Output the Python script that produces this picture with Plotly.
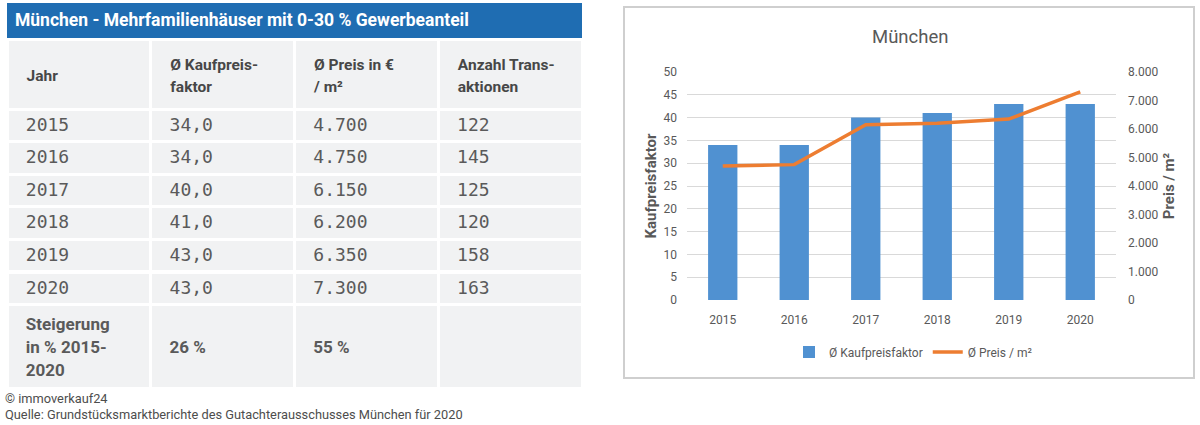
import plotly.graph_objects as go

# ---------------- data ----------------
years = ["2015", "2016", "2017", "2018", "2019", "2020"]
kaufpreisfaktor = [34.0, 34.0, 40.0, 41.0, 43.0, 43.0]
preis_m2 = [4700, 4750, 6150, 6200, 6350, 7300]
transaktionen = [122, 145, 125, 120, 158, 163]
steigerung_label = ["Steigerung", "in % 2015-", "2020"]
steigerung_faktor = "26 %"
steigerung_preis = "55 %"

table_title = "München - Mehrfamilienhäuser mit 0-30 % Gewerbeanteil"
col_headers = [["Jahr"], ["Ø Kaufpreis-", "faktor"], ["Ø Preis in €", "/ m²"], ["Anzahl Trans-", "aktionen"]]
chart_title = "München"
name_bar = "Ø Kaufpreisfaktor"
name_line = "Ø Preis / m²"
y1_title = "Kaufpreisfaktor"
y2_title = "Preis / m²"
footer = ["© immoverkauf24", "Quelle: Grundstücksmarktberichte des Gutachterausschusses München für 2020"]

# ---------------- styling ----------------
W, H = 1200, 425
BLUE_BAR = "#1f6db2"
CELL_BG = "#f1f2f3"
HEAD_COL = "#474747"
TXT_COL = "#5a5a5a"
CHART_TXT = "#595959"
BAR_COL = "#5091d1"
LINE_COL = "#ed7d31"
GRID_COL = "#d9d9d9"
SANS = "Roboto"
MONO = "DejaVu Sans Mono"
CHART_FONT = "Roboto"
NB = "\u00a0"
HEAD_SIZE = 15.5


def px(x):
    return x / W


def py(y):
    return 1 - y / H


def de(v, dec):
    s = f"{v:,.{dec}f}"
    return s.replace(",", "#").replace(".", ",").replace("#", ".")


def head_lines(lines):
    # single-line headers: full-height spacer line; two-line headers: tiny spacer line
    if len(lines) == 1:
        spacer = NB
    else:
        spacer = '<span style="font-size:1px">' + NB + "</span>"
    out = [spacer]
    for ln in lines:
        out.append(f'<span style="font-size:{HEAD_SIZE}px">' + NB * 3 + "<b>" + ln + "</b></span>")
    return "<br>".join(out)


def sans_bold(lines, size):
    return "<br>".join(
        NB + f'<span style="font-family:{SANS};font-size:{size}px"><b>' + ln + "</b></span>"
        for ln in lines
    )


col_year = [NB + y for y in years] + [sans_bold(steigerung_label, 17)]
col_fak = [NB + de(v, 1) for v in kaufpreisfaktor] + [NB + "<br>" + sans_bold([steigerung_faktor], 17)]
col_pre = [NB + de(v, 0) for v in preis_m2] + [NB + "<br>" + sans_bold([steigerung_preis], 17)]
col_tra = [NB + str(v) for v in transaktionen] + [""]

fig = go.Figure()

fig.add_trace(go.Table(
    domain=dict(x=[px(7), px(582)], y=[py(410), py(39)]),
    columnwidth=[1, 1, 1, 1],
    header=dict(
        values=[head_lines(h) for h in col_headers],
        fill_color=CELL_BG,
        line=dict(color="white", width=3),
        align="left",
        height=70,
        font=dict(family=SANS, size=[HEAD_SIZE, 17, 17, 17], color=HEAD_COL),
    ),
    cells=dict(
        values=[col_year, col_fak, col_pre, col_tra],
        fill_color=CELL_BG,
        line=dict(color="white", width=3),
        align="left",
        height=32.6,
        font=dict(family=MONO, size=18, color=TXT_COL),
    ),
))

fig.add_trace(go.Bar(
    x=years, y=kaufpreisfaktor, name=name_bar,
    marker=dict(color=BAR_COL, line=dict(width=0)),
    width=0.41, xaxis="x", yaxis="y",
))
fig.add_trace(go.Scatter(
    x=years, y=preis_m2, name=name_line, mode="lines",
    line=dict(color=LINE_COL, width=3.5),
    xaxis="x", yaxis="y2",
))

fig.update_layout(
    width=W, height=H,
    margin=dict(l=0, r=0, t=0, b=0),
    paper_bgcolor="white", plot_bgcolor="white",
    separators=",.",
    showlegend=True,
    legend=dict(
        orientation="h", x=px(913), xanchor="center", y=py(352), yanchor="middle",
        font=dict(family=CHART_FONT, size=12, color=CHART_TXT),
        bgcolor="rgba(0,0,0,0)",
    ),
    xaxis=dict(
        domain=[px(687), px(1116)], type="category", showgrid=False, showline=False,
        zeroline=False, ticks="", ticklabelstandoff=11, anchor="y", automargin=False,
        tickfont=dict(family=CHART_FONT, size=12, color=CHART_TXT),
    ),
    yaxis=dict(
        domain=[py(300), py(72)], range=[0, 50], dtick=5, showgrid=True, gridcolor=GRID_COL,
        gridwidth=1, zeroline=False, showline=False, ticks="", ticklabelstandoff=9,
        automargin=False, anchor="x",
        tickfont=dict(family=CHART_FONT, size=12, color=CHART_TXT),
        title=dict(text="<b>" + y1_title + "</b>", standoff=3,
                   font=dict(family=CHART_FONT, size=15, color=CHART_TXT)),
    ),
    yaxis2=dict(
        overlaying="y", side="right", range=[0, 8000], dtick=1000, showgrid=False,
        zeroline=False, showline=False, ticks="", ticklabelstandoff=11,
        separatethousands=True, automargin=False, anchor="x",
        tickfont=dict(family=CHART_FONT, size=12, color=CHART_TXT),
        title=dict(text="<b>" + y2_title + "</b>", standoff=6,
                   font=dict(family=CHART_FONT, size=15, color=CHART_TXT)),
    ),
    shapes=[
        dict(type="rect", xref="paper", yref="paper", x0=px(7), x1=px(582), y0=py(38), y1=py(3),
             fillcolor=BLUE_BAR, line=dict(width=0), layer="below"),
        dict(type="rect", xref="paper", yref="paper", x0=px(624), x1=px(1194), y0=py(378), y1=py(7),
             fillcolor="rgba(0,0,0,0)", line=dict(color="#cfcfcf", width=2), layer="below"),
    ],
    annotations=[
        dict(text="<b>" + table_title + "</b>", xref="paper", yref="paper", x=px(13), y=py(20),
             xanchor="left", yanchor="middle", showarrow=False,
             font=dict(family=SANS, size=17.5, color="white")),
        dict(text=chart_title, xref="paper", yref="paper", x=px(910), y=py(37),
             xanchor="center", yanchor="middle", showarrow=False,
             font=dict(family=CHART_FONT, size=18.5, color=CHART_TXT)),
        dict(text=footer[0], xref="paper", yref="paper", x=px(3), y=py(398),
             xanchor="left", yanchor="middle", showarrow=False,
             font=dict(family=CHART_FONT, size=12.8, color="#4d4d4d")),
        dict(text=footer[1], xref="paper", yref="paper", x=px(3), y=py(414),
             xanchor="left", yanchor="middle", showarrow=False,
             font=dict(family=CHART_FONT, size=12.8, color="#4d4d4d")),
    ],
)

fig.write_html("out.html", config={"staticPlot": True},
               post_script="document.body.style.margin='0';")
